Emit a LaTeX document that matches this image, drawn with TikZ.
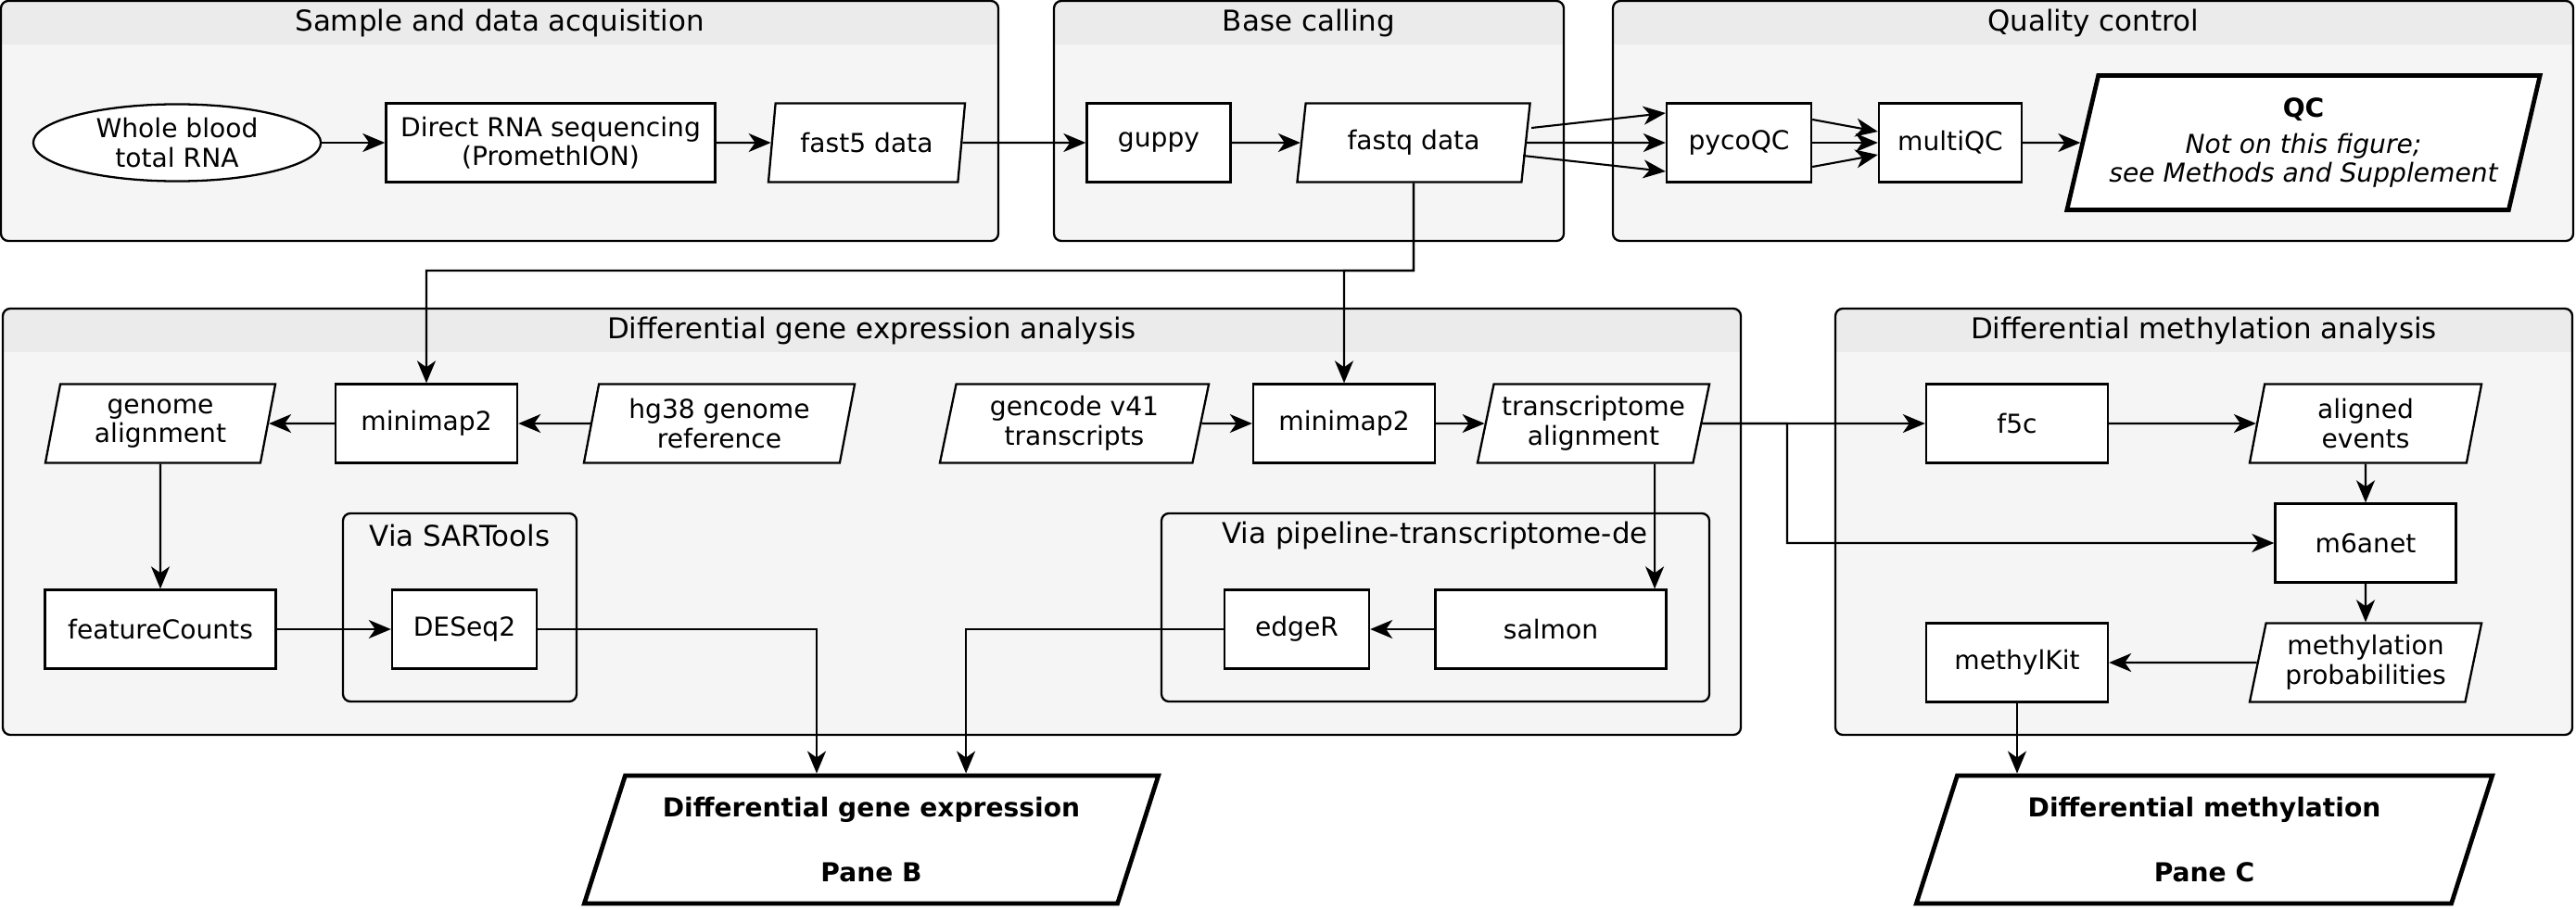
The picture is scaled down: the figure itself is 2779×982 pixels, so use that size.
\documentclass[tikz,border=0pt]{standalone}
\usepackage{fontspec}
\setmainfont{DejaVu Sans}
\usetikzlibrary{shapes.geometric,arrows.meta}

\tikzset{
  every node/.style={font=\fontsize{8}{9}\selectfont, align=center},
  stepbox/.style={draw, fill=white, line width=0.65pt, minimum height=0.85cm, inner sep=1pt},
  databox/.style={trapezium, trapezium left angle=75, trapezium right angle=105,
    trapezium stretches body, draw, fill=white, line width=0.65pt,
    minimum height=0.85cm, inner sep=1pt},
  resultbox/.style={databox, line width=1.35pt, font=\fontsize{8}{9}\selectfont\bfseries},
  flow/.style={-{Stealth[length=0.24cm, width=0.2cm, inset=0.07cm]}, line width=0.6pt},
  grouptitle/.style={font=\fontsize{8.8}{10}\selectfont},
}

\begin{document}
\begin{tikzpicture}[x=0.01cm, y=-0.01cm]
    \useasboundingbox (0,0) rectangle (2779,982);

    \def\groupbox#1#2#3#4#5#6{
        \fill[black!4, rounded corners=0.08cm] (#2,#3) rectangle (#4,#5);
        \fill[black!8, rounded corners=0.08cm] (#2,#3) rectangle (#4,#3+60);
        \fill[black!4] (#2,#3+47) rectangle (#4,#3+70);
        \draw[line width=0.65pt, rounded corners=0.08cm] (#2,#3) rectangle (#4,#5);
        \node[grouptitle] (#1) at ({(#2+#4)/2},#3+24) {#6};
    }

    \groupbox{acqtitle}{1}{1}{1077}{260}{Sample and data acquisition}
    \groupbox{calltitle}{1137}{1}{1687}{260}{Base calling}
    \groupbox{qctitle}{1740}{1}{2776}{260}{Quality control}
    \groupbox{dgetitle}{3}{333}{1878}{793}{Differential gene expression analysis}
    \groupbox{dmatitle}{1980}{333}{2775}{793}{Differential methylation analysis}

    \draw[line width=0.65pt, rounded corners=0.08cm] (370,554) rectangle (622,757);
    \node[grouptitle] (sartitle) at (496,578) {Via SARTools};
    \draw[line width=0.65pt, rounded corners=0.08cm] (1253,554) rectangle (1844,757);
    \node[grouptitle] (pipetitle) at (1548,578) {Via pipeline-transcriptome-de};

    \node[draw, ellipse, fill=white, line width=0.65pt, minimum width=3.1cm,
          minimum height=0.83cm, inner sep=0pt] (blood) at (191,154) {Whole blood\\total RNA};
    \node[stepbox, minimum width=3.55cm] (seq) at (594,154) {Direct RNA sequencing\\(PromethION)};
    \node[databox, minimum width=2.12cm] (fast5) at (935,154) {fast5 data};
    \node[stepbox, minimum width=1.55cm] (guppy) at (1250,154) {guppy};
    \node[databox, minimum width=2.51cm] (fastq) at (1525,154) {fastq data};
    \node[stepbox, minimum width=1.56cm] (pycoqc) at (1876,154) {pycoQC};
    \node[stepbox, minimum width=1.54cm] (multiqc) at (2104,154) {multiQC};
    \node[resultbox, minimum width=5.1cm, minimum height=1.45cm,
          trapezium left angle=72, trapezium right angle=108] (qc) at (2485,154)
          {QC\\[2pt]\mdseries\itshape Not on this figure;\\\mdseries\itshape see Methods and Supplement};

    \node[databox, minimum width=2.48cm] (galign) at (173,457) {genome\\alignment};
    \node[stepbox, minimum width=1.96cm] (mapg) at (460,457) {minimap2};
    \node[databox, minimum width=2.92cm] (hg38) at (776,457) {hg38 genome\\reference};
    \node[databox, minimum width=2.9cm] (gencode) at (1159,457) {gencode v41\\transcripts};
    \node[stepbox, minimum width=1.96cm] (mapt) at (1450,457) {minimap2};
    \node[databox, minimum width=2.5cm] (talign) at (1719,457) {transcriptome\\alignment};
    \node[stepbox, minimum width=2.49cm] (fcounts) at (173,679) {featureCounts};
    \node[stepbox, minimum width=1.56cm] (deseq) at (501,679) {DESeq2};
    \node[stepbox, minimum width=1.56cm] (edger) at (1399,679) {edgeR};
    \node[stepbox, minimum width=2.49cm] (salmon) at (1673,679) {salmon};

    \node[stepbox, minimum width=1.96cm] (f5c) at (2176,457) {f5c};
    \node[databox, minimum width=2.5cm] (events) at (2552,457) {aligned\\events};
    \node[stepbox, minimum width=1.95cm] (m6anet) at (2552,586) {m6anet};
    \node[databox, minimum width=2.5cm] (probs) at (2552,715) {methylation\\probabilities};
    \node[stepbox, minimum width=1.96cm] (methylkit) at (2176,715) {methylKit};

    \node[resultbox, minimum width=6.19cm, minimum height=1.38cm,
          trapezium left angle=66, trapezium right angle=114] (paneB) at (940,906)
          {Differential gene expression\\[11pt]Pane B};
    \node[resultbox, minimum width=6.21cm, minimum height=1.38cm,
          trapezium left angle=66, trapezium right angle=114] (paneC) at (2378,906)
          {Differential methylation\\[11pt]Pane C};

    \draw[flow] (blood) -- (seq);
    \draw[flow] (seq) -- (fast5);
    \draw[flow] (fast5) -- (guppy);
    \draw[flow] (guppy) -- (fastq);
    \foreach \s/\x/\t in {0.16/0.05/0.32, 0/0/0, -0.14/-0.04/-0.31}
        \draw[flow] ([yshift=\s cm, xshift=\x cm]fastq.east) -- ([yshift=\t cm]pycoqc.west);
    \foreach \s/\t in {0.25/0.12, 0/0, -0.26/-0.13}
        \draw[flow] ([yshift=\s cm]pycoqc.east) -- ([yshift=\t cm]multiqc.west);
    \draw[flow] (multiqc) -- (qc);

    \coordinate (split) at (1525,292);
    \draw[flow] (fastq.south) -- (split) -| (mapg.north);
    \draw[flow] (fastq.south) -- (split) -| (mapt.north);

    \draw[flow] (hg38) -- (mapg);
    \draw[flow] (mapg) -- (galign);
    \draw[flow] (galign) -- (fcounts);
    \draw[flow] (fcounts) -- (deseq);
    \draw[flow] (deseq.east) -| ([xshift=-0.59cm]paneB.north);
    \draw[flow] (gencode) -- (mapt);
    \draw[flow] (mapt) -- (talign);
    \draw[flow] ([xshift=0.66cm]talign.south) -- ([xshift=1.12cm]salmon.north);
    \draw[flow] (salmon) -- (edger);
    \draw[flow] (edger.west) -| ([xshift=1.02cm]paneB.north);

    \coordinate (mbend) at (1928,457);
    \draw[flow] (talign.east) -- (f5c);
    \draw[flow] (talign.east) -- (mbend) |- (m6anet);
    \draw[flow] (f5c) -- (events);
    \draw[flow] (events) -- (m6anet);
    \draw[flow] (m6anet) -- (probs);
    \draw[flow] (probs) -- (methylkit);
    \draw[flow] (methylkit) -- (methylkit |- paneC.north);
\end{tikzpicture}
\end{document}
